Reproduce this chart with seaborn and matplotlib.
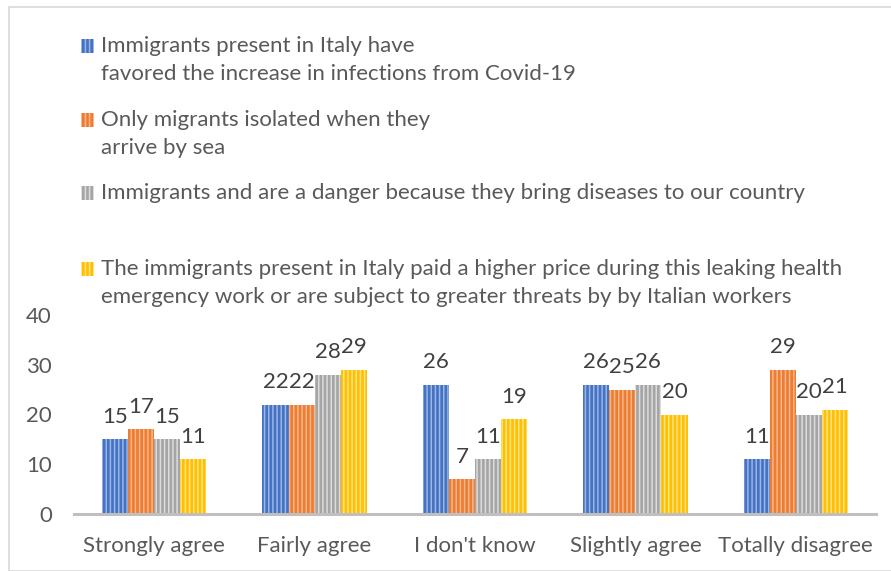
import matplotlib
matplotlib.use("Agg")
import matplotlib.pyplot as plt
import seaborn as sns
import pandas as pd
from matplotlib.patches import Rectangle

categories = ["Strongly agree", "Fairly agree", "I don't know", "Slightly agree", "Totally disagree"]
series_names = [
    "Immigrants present in Italy have\nfavored the increase in infections from Covid-19",
    "Only migrants isolated when they\narrive by sea",
    "Immigrants and are a danger because they bring diseases to our country",
    "The immigrants present in Italy paid a higher price during this leaking health\nemergency work or are subject to greater threats by by Italian workers",
]
s1 = [15, 22, 26, 26, 11]
s2 = [17, 22, 7, 25, 29]
s3 = [15, 28, 11, 26, 20]
s4 = [11, 29, 19, 20, 21]
yticks = [0, 10, 20, 30, 40]

colors = ["#4472C4", "#ED7D31", "#A5A5A5", "#FFC000"]
stripe = ["#9DB5E2", "#F6B68B", "#DCDCDC", "#FFE28A"]

sns.set_theme(style="white")
FONT = "Lato"
plt.rcParams["font.family"] = [FONT, "DejaVu Sans"]
plt.rcParams["hatch.linewidth"] = 1.1

rows = []
for name, vals in zip(series_names, [s1, s2, s3, s4]):
    for c, v in zip(categories, vals):
        rows.append({"cat": c, "series": name, "value": v})
df = pd.DataFrame(rows)

fig = plt.figure(figsize=(8.91, 5.71), dpi=100)
W, H = 891, 571
ax = fig.add_axes([74 / W, (H - 514) / H, 802 / W, 199 / H])

sns.barplot(data=df, x="cat", y="value", hue="series", order=categories,
            hue_order=series_names, palette=colors, width=0.65, legend=False,
            ax=ax, saturation=1)

FS = 16
txt = "#595959"
for cont, sc in zip(ax.containers, stripe):
    for p in cont:
        p.set_hatch("||||")
        p.set_edgecolor(sc)
        p.set_linewidth(0)
    ax.bar_label(cont, padding=9, fontsize=FS, color="#404040")

ax.set_ylim(0, 40)
ax.set_xlim(-0.5, 4.5)
ax.set_yticks(yticks)
ax.set_xlabel("")
ax.set_ylabel("")
for s in ["top", "right", "left"]:
    ax.spines[s].set_visible(False)
ax.spines["bottom"].set_color("#BFBFBF")
ax.spines["bottom"].set_linewidth(2.2)
ax.tick_params(axis="both", length=0, labelsize=FS, colors=txt)
ax.tick_params(axis="y", pad=16)
ax.tick_params(axis="x", pad=16)

# Outer chart border
fig.patches.append(Rectangle((9 / W, 0), 1.2, (H - 7) / H, transform=fig.transFigure,
                             fill=False, edgecolor="#D9D9D9", linewidth=1.2, zorder=0))

# Manual legend (handle aligned with first line like the original)
legend_lines = [
    [46, 74],
    [120, 148],
    [193],
    [269, 297],
]
for i, (name, ys) in enumerate(zip(series_names, legend_lines)):
    lines = name.split("\n")
    y0 = ys[0]
    fig.patches.append(Rectangle((81 / W, (H - y0 - 7) / H), 13 / W, 14 / H,
                                 transform=fig.transFigure, facecolor=colors[i],
                                 edgecolor=stripe[i], hatch="||||", linewidth=0))
    for line, y in zip(lines, ys):
        fig.text(101 / W, (H - y) / H, line, fontsize=FS, color=txt, va="center", ha="left")

fig.savefig("out.png", dpi=100)
